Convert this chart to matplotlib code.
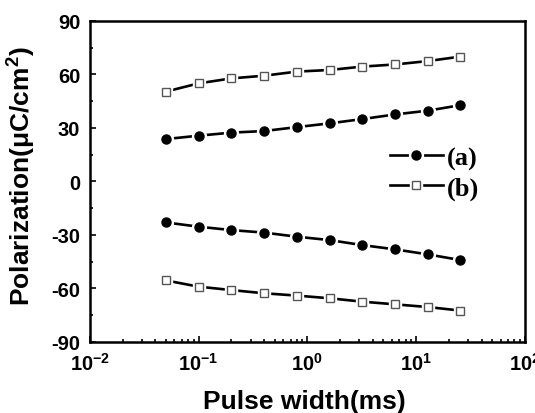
import numpy as np
import matplotlib
matplotlib.use('Agg')
import matplotlib.pyplot as plt
from matplotlib.legend_handler import HandlerTuple
from matplotlib.ticker import FixedLocator, MultipleLocator, LogLocator, NullFormatter

plt.rcParams['font.family'] = 'Liberation Sans'
plt.rcParams['font.weight'] = 'bold'
plt.rcParams['axes.unicode_minus'] = False
plt.rcParams['mathtext.fontset'] = 'custom'
plt.rcParams['mathtext.rm'] = 'Liberation Sans:bold'
plt.rcParams['mathtext.bf'] = 'Liberation Sans:bold'
plt.rcParams['mathtext.default'] = 'rm'

# pulse width (ms)
pulse = [0.05, 0.1, 0.2, 0.4, 0.8, 1.6, 3.2, 6.4, 12.8, 25.6]

# polarization (uC/cm2), upper and lower branches
a_pos = [23.7, 25.6, 27.3, 28.2, 30.4, 32.5, 34.9, 37.5, 39.6, 42.7]
a_neg = [-23.0, -25.4, -27.3, -28.7, -31.0, -32.9, -35.7, -38.1, -40.9, -44.1]
b_pos = [50.3, 54.9, 57.7, 59.2, 61.5, 62.4, 64.3, 65.5, 67.4, 69.9]
b_neg = [-55.5, -59.0, -60.9, -62.7, -64.0, -65.5, -67.4, -68.9, -70.4, -72.4]

fig = plt.figure(figsize=(5.35, 4.14), dpi=100)
ax = fig.add_axes([0.168, 0.1715, 0.813, 0.776])

def serie(y, marker, ms, fc, ec):
    # linea con hueco blanco alrededor de cada simbolo
    l1, = ax.plot(pulse, y, '-', color='k', lw=1.9, marker=marker, ms=ms + 3.5,
                  mfc='w', mec='w', zorder=2)
    l2, = ax.plot(pulse, y, linestyle='none', marker=marker, ms=ms,
                  mfc=fc, mec=ec, mew=1.0, zorder=3)
    return l1, l2

ha = serie(a_pos, 'o', 6.5, 'k', 'k')
serie(a_neg, 'o', 6.5, 'k', 'k')
hb = serie(b_pos, 's', 5.5, 'w', '#555555')
serie(b_neg, 's', 5.5, 'w', '#555555')

ax.set_xscale('log')
ax.set_xlim(1e-2, 1e2)
ax.set_ylim(-90, 90)
ax.yaxis.set_major_locator(MultipleLocator(30))
ax.yaxis.set_minor_locator(MultipleLocator(15))
ax.xaxis.set_major_locator(FixedLocator([1e-2, 1e-1, 1e0, 1e1, 1e2]))
ax.set_xticklabels([r'$10^{-2}$', r'$10^{-1}$', r'$10^{0}$', r'$10^{1}$', r'$10^{2}$'])
ax.xaxis.set_minor_locator(LogLocator(base=10, subs=np.arange(2, 10)))
ax.xaxis.set_minor_formatter(NullFormatter())

ax.tick_params(which='both', direction='in', top=False, right=False,
               labelsize=14.5, width=1.2, pad=7)
ax.tick_params(which='major', length=4)
ax.tick_params(which='minor', length=2.5)
for s in ax.spines.values():
    s.set_linewidth(1.8)

ax.set_xlabel('Pulse width(ms)', fontsize=19, fontweight='bold')
ax.set_ylabel(r'Polarization($\mathrm{\mu}$C/cm$^{2}$)', fontsize=19,
              fontweight='bold')
ax.xaxis.set_label_coords(0.492, -0.145)
ax.yaxis.set_label_coords(-0.12, 0.52)

ax.legend([ha, hb], ['(a)', '(b)'], handler_map={tuple: HandlerTuple(ndivide=1)},
          loc='upper left', bbox_to_anchor=(0.69, 0.61), frameon=False,
          borderpad=0, borderaxespad=0,
          prop={'family': 'Liberation Serif', 'weight': 'bold', 'size': 19},
          handlelength=2.0, handletextpad=0.15, labelspacing=0.22)

fig.savefig('out.png', dpi=100)
